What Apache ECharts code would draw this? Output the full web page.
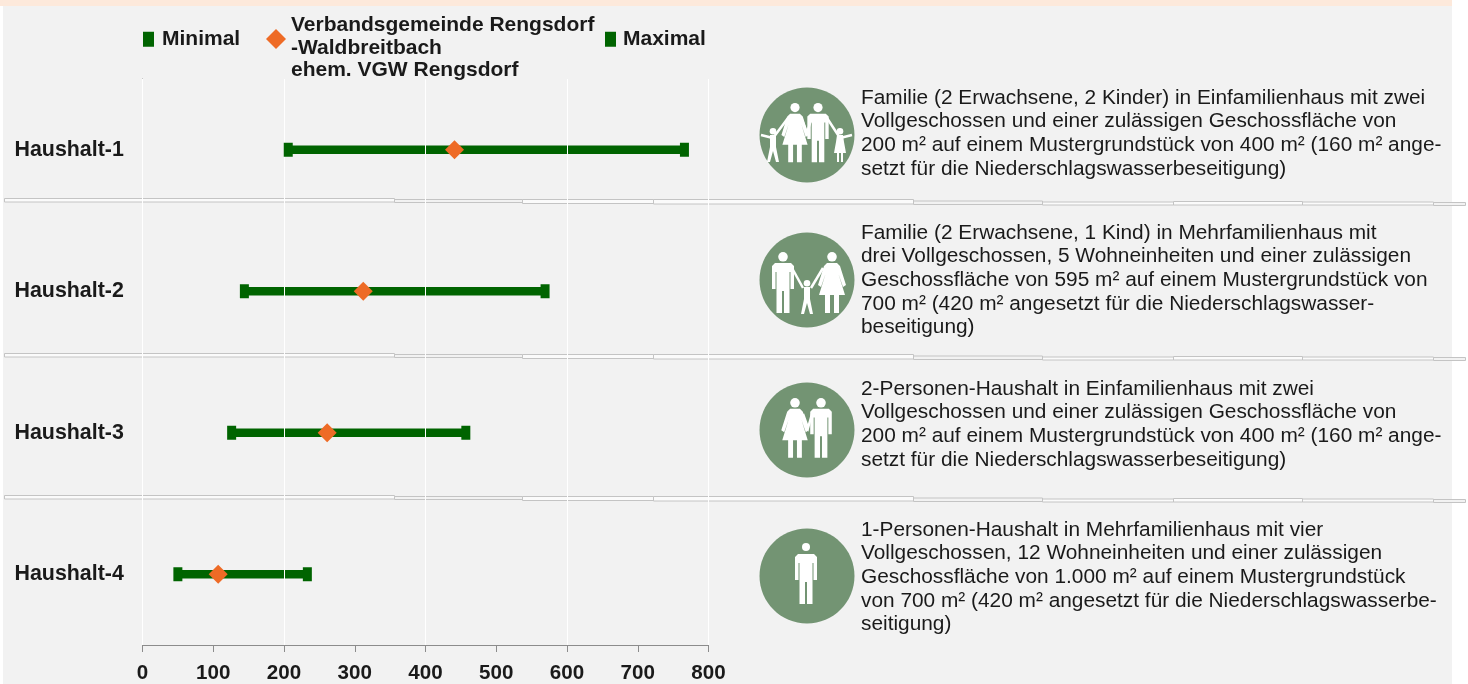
<!DOCTYPE html>
<html>
<head>
<meta charset="utf-8">
<title>Haushalte</title>
<style>
  html, body { margin: 0; padding: 0; background: #fff; }
  #main { width: 1468px; height: 684px; }
</style>
<script src="https://cdn.jsdelivr.net/npm/echarts@6/dist/echarts.min.js"></script>
</head>
<body>
<div id="main"></div>
<script>
var categories = ['Haushalt-1', 'Haushalt-2', 'Haushalt-3', 'Haushalt-4'];
var minValues = [206, 144, 126, 50];
var midValues = [441, 312, 261, 107];
var maxValues = [766, 569, 457, 233];

var nameMin = 'Minimal';
var nameMid = 'Verbandsgemeinde Rengsdorf\n-Waldbreitbach\nehem. VGW Rengsdorf';
var nameMax = 'Maximal';

var descriptions = [
  'Familie (2 Erwachsene, 2 Kinder) in Einfamilienhaus mit zwei\nVollgeschossen und einer zulässigen Geschossfläche von\n200 m² auf einem Mustergrundstück von 400 m² (160 m² ange-\nsetzt für die Niederschlagswasserbeseitigung)',
  'Familie (2 Erwachsene, 1 Kind) in Mehrfamilienhaus mit\ndrei Vollgeschossen, 5 Wohneinheiten und einer zulässigen\nGeschossfläche von 595 m² auf einem Mustergrundstück von\n700 m² (420 m² angesetzt für die Niederschlagswasser-\nbeseitigung)',
  '2-Personen-Haushalt in Einfamilienhaus mit zwei\nVollgeschossen und einer zulässigen Geschossfläche von\n200 m² auf einem Mustergrundstück von 400 m² (160 m² ange-\nsetzt für die Niederschlagswasserbeseitigung)',
  '1-Personen-Haushalt in Mehrfamilienhaus mit vier\nVollgeschossen, 12 Wohneinheiten und einer zulässigen\nGeschossfläche von 1.000 m² auf einem Mustergrundstück\nvon 700 m² (420 m² angesetzt für die Niederschlagswasserbe-\nseitigung)'
];
var descriptionTops = [86, 221, 377, 518];

var green = '#006400';
var orange = '#ee6b26';
var iconGreen = '#739473';
var textDark = '#1a1a1a';
var font = '"Liberation Sans", Arial, sans-serif';

var MAN = [[-8,11],[8,11],[11,14],[11,37],[7.5,37],[7.5,20],[6.5,20],[6.5,61],[1,61],[1,39],[-1,39],[-1,61],[-6.5,61],[-6.5,20],[-7.5,20],[-7.5,37],[-11,37],[-11,14]];
var WOMAN = [[-5,11],[5,11],[8,14],[14,33],[11,35],[6.5,22],[13,43],[7,43],[7,61],[2,61],[2,43],[-2,43],[-2,61],[-7,61],[-7,43],[-13,43],[-6.5,22],[-11,35],[-14,33],[-8,14]];
var BOY = [[-3,7],[3,7],[3,19],[6,34],[3,34],[0,23],[-3,34],[-6,34],[-3,19]];
var GIRL = [[-3,7],[3,7],[4,14],[6,25],[3,25],[3,34],[1,34],[1,25],[-1,25],[-1,34],[-3,34],[-3,25],[-6,25],[-4,14]];

function figure(points, cx, top, k, headR) {
  return [
    { type: 'circle', z: 5, silent: true, shape: { cx: cx, cy: top + headR, r: headR }, style: { fill: '#fff' } },
    { type: 'polygon', z: 5, silent: true, shape: { points: points.map(function (p) { return [cx + p[0] * k, top + p[1] * k]; }) }, style: { fill: '#fff' } }
  ];
}
function limb(points) {
  return { type: 'polyline', z: 5, silent: true, shape: { points: points }, style: { stroke: '#fff', lineWidth: 2.5, fill: null } };
}
function disc(cx, cy) {
  return { type: 'ellipse', z: 4, silent: true, shape: { cx: cx, cy: cy, rx: 47.5, ry: 47.5 }, style: { fill: iconGreen } };
}

var icons = [].concat(
  disc(807, 135),
  figure(WOMAN, 795, 103, 0.97, 4.6), figure(MAN, 818, 103, 0.97, 4.6),
  figure(BOY, 773, 128, 1, 3.3), figure(GIRL, 840, 128, 1, 3.3),
  limb([[761, 135], [773, 138], [788, 118]]), limb([[852, 135], [840, 138], [827, 118]]), limb([[802, 120], [807, 133], [811, 120]]),

  disc(807, 280),
  figure(MAN, 783, 252, 1, 4.8), figure(WOMAN, 832, 252, 1, 4.8),
  figure(BOY, 807, 280, 1, 3.3),
  limb([[792, 268], [803, 288]]), limb([[823, 268], [811, 288]]),

  disc(807, 430),
  figure(WOMAN, 795, 398, 0.98, 4.8), figure(MAN, 821, 398, 0.98, 4.8),
  limb([[803, 414], [808, 428], [812, 414]]),

  disc(807, 576),
  figure(MAN, 806, 543, 1, 4)
);

// separator pieces: x0, x1, top, bottom, white filled or not
var separatorPieces = [
  [4, 394, 198.5, 202, true], [394, 522, 199.5, 202.5, false], [522, 653, 199.5, 203.5, true],
  [653, 913, 199.5, 204, true], [913, 1042, 201, 204.5, false], [1042, 1173, 202, 205, true],
  [1173, 1302, 201.5, 205, true], [1302, 1433, 202, 205, true], [1433, 1465, 202.5, 205.5, false]
];
var separatorShift = [0, 155, 297];
var separators = [];
separatorShift.forEach(function (dy) {
  separatorPieces.forEach(function (s) {
    separators.push({
      type: 'rect', z: -1, silent: true,
      shape: { x: s[0] + 0.5, y: s[2] + dy, width: s[1] - s[0], height: s[3] - s[2] },
      style: { fill: s[4] ? '#fbfbfb' : '#f2f2f2', stroke: '#c4c4c4', lineWidth: 1 }
    });
  });
});

var texts = descriptions.map(function (d, i) {
  return {
    type: 'text', z: 5, silent: true, left: 861, top: descriptionTops[i],
    style: { text: d, font: '20.85px ' + font, fill: textDark, lineHeight: 23.7 }
  };
});

var backgrounds = [
  { type: 'rect', z: -2, silent: true, shape: { x: 3, y: 6, width: 1449, height: 678 }, style: { fill: '#f2f2f2' } },
  { type: 'rect', z: -2, silent: true, shape: { x: 0, y: 0, width: 1452, height: 6 }, style: { fill: '#fde9db' } }
];

var legendText = { fontFamily: font, fontWeight: 'bold', fontSize: 21, color: textDark, lineHeight: 22.5 };

function legendFor(name, left, top, w, h, pad) {
  return {
    data: [name], left: left, top: top, padding: 0, orient: 'horizontal',
    itemWidth: w, itemHeight: h, selectedMode: false,
    textStyle: Object.assign({ padding: pad }, legendText)
  };
}

// the three line name sits lower than its diamond, a short empty first line pushes it down
var midLegend = legendFor(nameMid, 266, -3.75, 20, 20, [0, 0, 0, 0]);
midLegend.formatter = function (name) {
  return '{s| }\n' + name.split('\n').map(function (l) { return '{t|' + l + '}'; }).join('\n');
};
midLegend.textStyle.rich = {
  s: { fontSize: 10, lineHeight: 18 },
  t: legendText
};

var chart = echarts.init(document.getElementById('main'));
chart.setOption({
  animation: false,
  backgroundColor: '#fff',
  legend: [
    legendFor(nameMin, 143, 28, 11, 15, [0, 0, 0, 3]),
    midLegend,
    legendFor(nameMax, 605, 28, 11, 15, [0, 0, 0, 2])
  ],
  grid: { left: 142.5, width: 566, top: 79, height: 568 },
  xAxis: [
    {
      type: 'value', min: 0, max: 800, interval: 100,
      axisLine: { show: true, lineStyle: { color: '#8c8c8c', width: 1 } },
      axisTick: { show: true, length: 7, lineStyle: { color: '#8c8c8c' } },
      axisLabel: { margin: 18, fontFamily: font, fontWeight: 'bold', fontSize: 20.6, color: textDark },
      splitLine: { show: false }
    },
    {
      type: 'value', min: 0, max: 800, interval: 200, position: 'bottom', z: 2.5,
      axisLine: { show: false }, axisTick: { show: false }, axisLabel: { show: false },
      splitLine: { show: true, lineStyle: { color: '#fff', width: 1 } }
    }
  ],
  yAxis: {
    type: 'category', data: categories, inverse: true,
    axisLine: { show: true, lineStyle: { color: '#8c8c8c', width: 1 } },
    axisTick: { show: false },
    axisLabel: { align: 'left', margin: 128, fontFamily: font, fontWeight: 'bold', fontSize: 21.4, color: textDark }
  },
  series: [
    {
      type: 'custom', name: 'Spanne', z: 2, silent: true,
      encode: { x: [0, 1], y: 2 },
      data: categories.map(function (c, i) { return [minValues[i], maxValues[i], i]; }),
      renderItem: function (params, api) {
        var a = api.coord([api.value(0), api.value(2)]);
        var b = api.coord([api.value(1), api.value(2)]);
        return { type: 'rect', shape: { x: a[0], y: a[1] - 4.25, width: b[0] - a[0], height: 8.5 }, style: { fill: green } };
      }
    },
    {
      type: 'scatter', name: nameMin, z: 3, silent: true, symbol: 'rect', symbolSize: [9, 14],
      itemStyle: { color: green, opacity: 1 },
      data: categories.map(function (c, i) { return [minValues[i], c]; })
    },
    {
      type: 'scatter', name: nameMax, z: 3, silent: true, symbol: 'rect', symbolSize: [9, 14],
      itemStyle: { color: green, opacity: 1 },
      data: categories.map(function (c, i) { return [maxValues[i], c]; })
    },
    {
      type: 'scatter', name: nameMid, z: 4, silent: true, symbol: 'diamond', symbolSize: [19, 19],
      itemStyle: { color: orange, opacity: 1 },
      data: categories.map(function (c, i) { return [midValues[i], c]; })
    }
  ],
  graphic: { elements: backgrounds.concat(separators, icons, texts) }
});
</script>
</body>
</html>
